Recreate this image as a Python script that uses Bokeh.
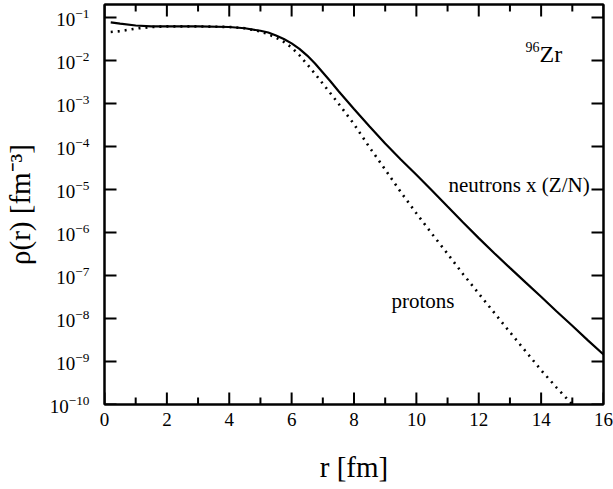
from bokeh.plotting import figure
from bokeh.models import FixedTicker, LinearAxis, LogAxis, Label, Range1d
from bokeh.embed import file_html
from bokeh.resources import INLINE

# neutrons x (Z/N)
r_n = [0.2, 0.5, 1.0, 1.5, 2.0, 3.0, 4.0, 4.5, 5.0, 5.25, 5.5, 5.75, 6.0, 6.25,
       6.5, 6.75, 7.0, 7.25, 7.5, 7.75, 8.0, 8.5, 9.0, 9.5, 10.0, 10.5, 11.0,
       11.5, 12.0, 12.5, 13.0, 13.5, 14.0, 14.5, 15.0, 15.5, 16.0]
rho_n = [7.7e-2, 7.2e-2, 6.5e-2, 6.2e-2, 6.2e-2, 6.2e-2, 6.0e-2, 5.6e-2, 4.9e-2,
         4.47e-2, 3.8e-2, 3.16e-2, 2.5e-2, 1.86e-2, 1.3e-2, 8.5e-3, 5.25e-3,
         3.24e-3, 1.95e-3, 1.2e-3, 7.4e-4, 2.9e-4, 1.17e-4, 5.0e-5, 2.2e-5,
         9.5e-6, 4.0e-6, 1.7e-6, 7.4e-7, 3.3e-7, 1.5e-7, 6.9e-8, 3.2e-8, 1.45e-8,
         6.8e-9, 3.1e-9, 1.45e-9]

# protons
r_p = [0.2, 0.5, 1.0, 1.5, 2.0, 3.0, 4.0, 4.5, 5.0, 5.25, 5.5, 5.75, 6.0, 6.25,
       6.5, 6.75, 7.0, 7.25, 7.5, 7.75, 8.0, 8.5, 9.0, 9.5, 10.0, 10.5, 11.0,
       11.5, 12.0, 12.5, 13.0, 13.5, 14.0, 14.5, 15.0]
rho_p = [4.6e-2, 4.8e-2, 5.5e-2, 6.0e-2, 6.2e-2, 6.2e-2, 6.0e-2, 5.6e-2, 4.7e-2,
         4.07e-2, 3.4e-2, 2.69e-2, 2.0e-2, 1.32e-2, 8.1e-3, 4.9e-3, 2.88e-3,
         1.7e-3, 1.0e-3, 5.75e-4, 3.3e-4, 9.5e-5, 2.9e-5, 8.7e-6, 2.8e-6, 9.3e-7,
         3.2e-7, 1.07e-7, 3.8e-8, 1.35e-8, 4.8e-9, 1.74e-9, 6.3e-10, 2.45e-10,
         1.0e-10]

x_major = [0, 2, 4, 6, 8, 10, 12, 14, 16]
x_minor = [1, 3, 5, 7, 9, 11, 13, 15]
y_major = [1e-10, 1e-9, 1e-8, 1e-7, 1e-6, 1e-5, 1e-4, 1e-3, 1e-2, 1e-1]

FONT = "Liberation Serif"
X0, X1 = 0, 16
Y0, Y1 = 1e-10, 0.2

p = figure(width=613, height=489, y_axis_type="log",
           x_range=Range1d(X0, X1), y_range=Range1d(Y0, Y1),
           output_backend="svg", toolbar_location=None,
           min_border_left=104, min_border_right=10,
           min_border_top=4, min_border_bottom=85)
p.grid.visible = False
p.background_fill_color = "white"
p.border_fill_color = "white"
p.outline_line_color = "black"
p.outline_line_width = 2

xt = FixedTicker(ticks=x_major, minor_ticks=x_minor)
yt = FixedTicker(ticks=y_major, minor_ticks=[])

def style(ax):
    ax.axis_line_color = "black"
    ax.axis_line_width = 2
    ax.major_tick_in = 0
    ax.major_tick_out = 0
    ax.minor_tick_in = 0
    ax.minor_tick_out = 0
    ax.major_label_text_font = FONT
    ax.major_label_text_font_size = "19px"
    ax.major_label_text_color = "black"
    ax.axis_label_text_font = FONT
    ax.axis_label_text_font_style = "normal"
    ax.axis_label_text_color = "black"
    ax.axis_label_text_font_size = "29px"

xa = p.xaxis[0]
xa.ticker = xt
style(xa)
xa.major_label_standoff = 8
xa.axis_label = "r [fm]"
xa.axis_label_standoff = 22

ya = p.yaxis[0]
ya.ticker = yt
style(ya)
ya.major_label_standoff = 15
ya.axis_label = "ρ(r) [fm⁻³]"
ya.axis_label_standoff = 11

top = LinearAxis(ticker=xt)
style(top)
top.major_label_overrides = {t: "" for t in x_major}
top.major_label_standoff = 0
p.add_layout(top, "above")

right = LogAxis(ticker=yt)
style(right)
right.major_label_overrides = {t: "" for t in y_major}
right.major_label_standoff = 0
p.add_layout(right, "right")

# inward tick marks: one broken polyline (NaN separates the pieces)
NAN = float("nan")
DX_MAJ = 0.385                      # 12 px along x
FY_MAJ, FY_MIN = 1.90, 1.45         # 12 px / 7 px along log y
tx, ty = [], []
for t in x_major:
    tx += [t, t, NAN, t, t, NAN]
    ty += [Y0, Y0 * FY_MAJ, NAN, Y1, Y1 / FY_MAJ, NAN]
for t in x_minor:
    tx += [t, t, NAN, t, t, NAN]
    ty += [Y0, Y0 * FY_MIN, NAN, Y1, Y1 / FY_MIN, NAN]
for t in y_major:
    tx += [X0, X0 + DX_MAJ, NAN, X1, X1 - DX_MAJ, NAN]
    ty += [t, t, NAN, t, t, NAN]
p.line(tx, ty, line_color="black", line_width=2)

p.line(r_n, rho_n, line_color="black", line_width=2.2)
p.line(r_p, rho_p, line_color="black", line_width=2.6, line_dash="2 5")

p.add_layout(Label(x=13.5, y=2.1e-2, text="96", text_font=FONT,
                   text_baseline="alphabetic",
                   text_font_size="14px", text_color="black"))
p.add_layout(Label(x=13.95, y=1.45e-2, text="Zr", text_font=FONT,
                   text_baseline="alphabetic",
                   text_font_size="24px", text_color="black"))
p.add_layout(Label(x=11.03, y=1.25e-5, text="neutrons x (Z/N)", text_font=FONT,
                   text_baseline="alphabetic",
                   text_font_size="21px", text_color="black"))
p.add_layout(Label(x=9.2, y=2.6e-8, text="protons", text_font=FONT,
                   text_baseline="alphabetic",
                   text_font_size="21px", text_color="black"))

open("out.html", "w").write(file_html(p, INLINE))
